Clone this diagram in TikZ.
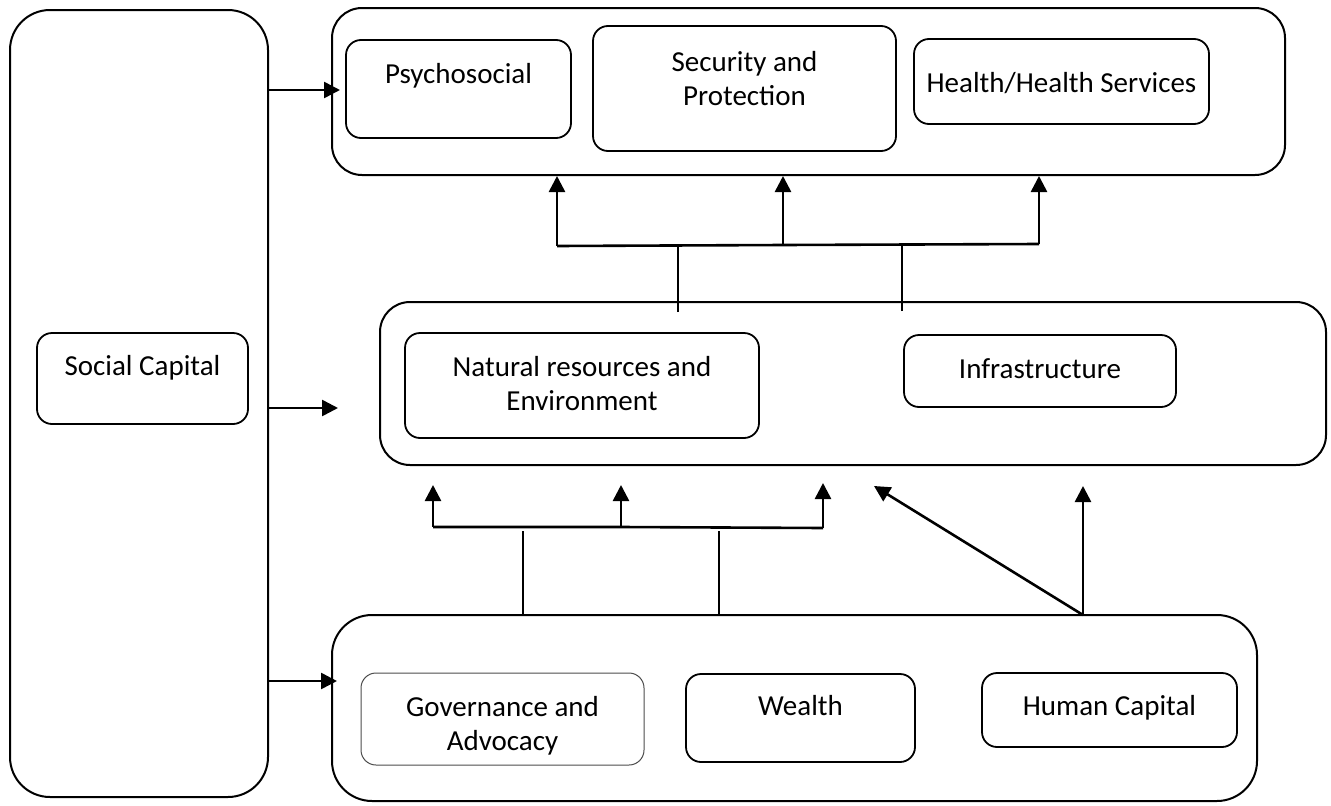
\documentclass[tikz,border=0pt]{standalone}
\usepackage{fontspec}
\setmainfont{Carlito}
\usetikzlibrary{arrows.meta}
\begin{document}
\begin{tikzpicture}[x=1pt,y=-1pt,
 outer/.style={draw, line width=2pt, rounded corners=30pt, inner sep=0pt},
 innerbox/.style={draw, line width=1.8pt, rounded corners=15pt, inner sep=0pt},
 lbl/.style={font=\fontsize{29}{34}\selectfont, align=center, anchor=base, inner sep=0pt},
 arr/.style={line width=2.6pt, -{Triangle[length=16pt,width=16pt]}},
 link/.style={line width=2.6pt},
 thinlink/.style={line width=1.6pt}]
\useasboundingbox (0,0) rectangle (1331,806);

% outer containers
\node[outer, rounded corners=40pt, minimum width=258pt, minimum height=787pt] (social) at (139,403.5) {};
\node[outer, minimum width=953pt, minimum height=167pt] (top) at (808.5,91.5) {};
\node[outer, minimum width=946pt, minimum height=163pt] (mid) at (853,383.5) {};
\node[outer, rounded corners=40pt, minimum width=925pt, minimum height=186pt] (bot) at (794.5,708) {};

% inner boxes
\node[innerbox, minimum width=211pt, minimum height=91pt] (sc) at (142.5,378.5) {};
\node[lbl] (scT) at (142.5,375) {Social Capital};

\node[innerbox, minimum width=225pt, minimum height=98pt] (psy) at (458.5,89) {};
\node[lbl] (psyT) at (458.5,83) {Psychosocial};

\node[innerbox, minimum width=303pt, minimum height=125pt] (sec) at (744.5,88.5) {};
\node[lbl] (secT) at (744.5,105) {Security and\\Protection};

\node[innerbox, minimum width=295pt, minimum height=85pt] (hea) at (1061.5,81.5) {};
\node[lbl] (heaT) at (1061.5,92) {Health/Health Services};

\node[innerbox, minimum width=354pt, minimum height=105pt] (nat) at (582,385.5) {};
\node[lbl] (natT) at (582,410) {Natural resources and\\Environment};

\node[innerbox, minimum width=272pt, minimum height=72pt] (inf) at (1040,371) {};
\node[lbl] (infT) at (1040,378) {Infrastructure};

\node[innerbox, line width=1pt, draw=black!70, minimum width=283pt, minimum height=92pt] (gov) at (502.5,719) {};
\node[lbl] (govT) at (502.5,750) {Governance and\\Advocacy};

\node[innerbox, minimum width=229pt, minimum height=88pt] (wea) at (800.5,718) {};
\node[lbl] (weaT) at (800.5,715) {Wealth};

\node[innerbox, minimum width=255pt, minimum height=74pt] (hum) at (1109.5,710) {};
\node[lbl] (humT) at (1109.5,715) {Human Capital};

% social capital arrows
\coordinate (tTip) at (340,90);
\coordinate (mTip) at (338,408);
\coordinate (bTip) at (337,681);
\draw[arr] (social.east |- tTip) -- (tTip);
\draw[arr] (social.east |- mTip) -- (mTip);
\draw[arr] (social.east |- bTip) -- (bTip);

% upper bus
\coordinate (u1) at (557,246);
\coordinate (u2) at (783,245);
\coordinate (u3) at (1039,244);
\draw[link] (u1) -- (u2) -- (u3);
\draw[arr] (u1) -- (u1 |- top.south);
\draw[arr] (u2) -- (u2 |- top.south);
\draw[arr] (u3) -- (u3 |- top.south);
\coordinate (m1) at (678,312);
\coordinate (m2) at (902,311);
\draw[thinlink] (m1) -- (678,245);
\draw[thinlink] (m2) -- (902,243);

% lower bus
\coordinate (l1) at (433,527);
\coordinate (l2) at (621,527);
\coordinate (l3) at (823,528);
\draw[link] (l1) -- (l2) -- (l3);
\draw[arr] (l1) -- (433,485);
\draw[arr] (l2) -- (621,485);
\draw[arr] (l3) -- (823,483);
\coordinate (v1) at (523,531);
\coordinate (v2) at (719,531);
\draw[thinlink] (v1) -- (v1 |- bot.north);
\draw[thinlink] (v2) -- (v2 |- bot.north);

% human capital arrows
\coordinate (h0) at (1083,615);
\coordinate (hd) at (874,486);
\coordinate (hv) at (1083,486);
\draw[arr] (h0) -- (hd);
\draw[arr] (h0) -- (hv);
\end{tikzpicture}
\end{document}
